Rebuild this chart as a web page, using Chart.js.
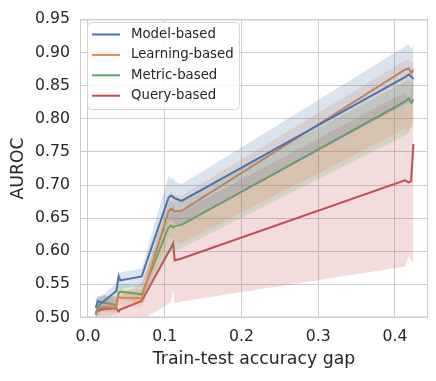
<!DOCTYPE html>
<html lang="en">
<head>
    <meta charset="UTF-8">
    <title>AUROC vs train-test gap</title>
    <script src="https://cdn.jsdelivr.net/npm/chart.js@4.4.1/dist/chart.umd.min.js"></script>
    <style>
        body { margin: 0; background: #fff; }
        #wrap { width: 436px; height: 381px; position: relative; }
    </style>
</head>
<body>
    <div id="wrap"><canvas id="aurocChart"></canvas></div>

    <script>
        // train-test accuracy gap (shared by all attack families)
        const gaps = [0.010, 0.013, 0.018, 0.037, 0.040, 0.042, 0.070, 0.105, 0.108, 0.111, 0.113, 0.122, 0.413, 0.418, 0.421, 0.424];

        const modelMean = [0.515, 0.525, 0.522, 0.540, 0.562, 0.556, 0.562, 0.681, 0.684, 0.682, 0.680, 0.676, 0.863, 0.867, 0.864, 0.860];
        const modelLow  = [0.503, 0.508, 0.510, 0.525, 0.545, 0.543, 0.548, 0.645, 0.648, 0.645, 0.642, 0.640, 0.822, 0.825, 0.828, 0.820];
        const modelHigh = [0.528, 0.533, 0.532, 0.552, 0.570, 0.568, 0.574, 0.714, 0.709, 0.711, 0.706, 0.701, 0.909, 0.913, 0.906, 0.911];

        const learnMean = [0.507, 0.512, 0.515, 0.517, 0.532, 0.530, 0.529, 0.660, 0.664, 0.662, 0.660, 0.661, 0.874, 0.876, 0.869, 0.874];
        const learnLow  = [0.497, 0.500, 0.503, 0.505, 0.520, 0.518, 0.515, 0.618, 0.620, 0.617, 0.615, 0.612, 0.785, 0.780, 0.790, 0.785];
        const learnHigh = [0.517, 0.522, 0.525, 0.528, 0.545, 0.543, 0.542, 0.686, 0.690, 0.688, 0.684, 0.684, 0.888, 0.890, 0.884, 0.889];

        const metricMean = [0.504, 0.515, 0.523, 0.519, 0.537, 0.539, 0.535, 0.636, 0.639, 0.636, 0.638, 0.640, 0.826, 0.831, 0.824, 0.829];
        const metricLow  = [0.495, 0.503, 0.510, 0.507, 0.525, 0.527, 0.522, 0.598, 0.600, 0.597, 0.600, 0.605, 0.775, 0.780, 0.790, 0.800];
        const metricHigh = [0.513, 0.527, 0.535, 0.531, 0.549, 0.551, 0.548, 0.672, 0.676, 0.673, 0.675, 0.678, 0.855, 0.860, 0.852, 0.858];

        const queryMean = [0.509, 0.510, 0.512, 0.514, 0.509, 0.512, 0.525, 0.599, 0.605, 0.612, 0.586, 0.589, 0.707, 0.704, 0.706, 0.762];
        const queryLow  = [0.490, 0.492, 0.494, 0.497, 0.503, 0.493, 0.497, 0.520, 0.525, 0.542, 0.522, 0.524, 0.577, 0.594, 0.586, 0.584];
        const queryHigh = [0.528, 0.530, 0.532, 0.533, 0.518, 0.532, 0.553, 0.650, 0.658, 0.672, 0.655, 0.660, 0.840, 0.830, 0.835, 0.900];

        const seriesNames = ['Model-based', 'Learning-based', 'Metric-based', 'Query-based'];
        const xTicks = [0.0, 0.1, 0.2, 0.3, 0.4];
        const yTicks = [0.50, 0.55, 0.60, 0.65, 0.70, 0.75, 0.80, 0.85, 0.90, 0.95];

        const palette = [[76, 114, 176], [221, 132, 82], [85, 168, 104], [196, 78, 82]];
        const groups = [
            [modelMean, modelLow, modelHigh],
            [learnMean, learnLow, learnHigh],
            [metricMean, metricLow, metricHigh],
            [queryMean, queryLow, queryHigh]
        ];

        const pts = arr => arr.map((v, i) => ({ x: gaps[i], y: v }));
        const rgba = (c, a) => `rgba(${c[0]}, ${c[1]}, ${c[2]}, ${a})`;

        const datasets = [];
        groups.forEach((g, i) => {
            const col = palette[i];
            datasets.push({ data: pts(g[2]), borderWidth: 0, pointRadius: 0, fill: '+1', backgroundColor: rgba(col, 0.2) });
            datasets.push({ data: pts(g[1]), borderWidth: 0, pointRadius: 0, fill: false });
            datasets.push({ label: seriesNames[i], data: pts(g[0]), borderColor: rgba(col, 1), borderWidth: 2, pointRadius: 0, fill: false, tension: 0 });
        });

        const txt = '#262626';
        const gridCol = '#cccccc';

        // frame + legend drawn inside the plot like the seaborn figure
        const framePlugin = {
            id: 'frameLegend',
            afterDraw(chart) {
                const { ctx, chartArea: a } = chart;
                ctx.save();
                ctx.strokeStyle = gridCol;
                ctx.lineWidth = 1;
                ctx.strokeRect(a.left + 0.5, a.top + 0.5, a.right - a.left - 1, a.bottom - a.top - 1);

                const bx = 87, by = 22, bw = 152, bh = 87, r = 4;
                ctx.beginPath();
                ctx.roundRect(bx + 0.5, by + 0.5, bw, bh, r);
                ctx.fillStyle = 'rgba(255,255,255,0.8)';
                ctx.fill();
                ctx.strokeStyle = '#d6d6d6';
                ctx.stroke();

                ctx.font = '13.3px "DejaVu Sans"';
                ctx.textBaseline = 'middle';
                ctx.fillStyle = txt;
                seriesNames.forEach((name, i) => {
                    const y = 34.5 + i * 20.4;
                    ctx.beginPath();
                    ctx.moveTo(92, y);
                    ctx.lineTo(120, y);
                    ctx.strokeStyle = rgba(palette[i], 1);
                    ctx.lineWidth = 2;
                    ctx.stroke();
                    ctx.fillText(name, 131, y);
                });
                ctx.restore();
            }
        };

        new Chart(document.getElementById('aurocChart'), {
            type: 'line',
            data: { datasets: datasets },
            options: {
                responsive: true,
                maintainAspectRatio: false,
                animation: false,
                layout: { padding: { left: 0, right: 8, top: 16, bottom: 0 } },
                plugins: {
                    legend: { display: false },
                    tooltip: { enabled: false }
                },
                scales: {
                    x: {
                        type: 'linear',
                        min: -0.0104,
                        max: 0.443,
                        afterBuildTicks: s => { s.ticks = xTicks.map(v => ({ value: v })); },
                        afterFit: s => { s.height = 63.5; },
                        grid: { color: gridCol, drawTicks: false },
                        border: { display: false },
                        ticks: {
                            color: txt,
                            padding: 10,
                            font: { family: 'DejaVu Sans', size: 15.7 },
                            callback: v => v.toFixed(1)
                        },
                        title: {
                            display: true,
                            text: 'Train-test accuracy gap',
                            color: txt,
                            font: { family: 'DejaVu Sans', size: 17.3 },
                            padding: { top: 0, bottom: 11 }
                        }
                    },
                    y: {
                        min: 0.5,
                        max: 0.95,
                        afterBuildTicks: s => { s.ticks = yTicks.map(v => ({ value: v })); },
                        afterFit: s => { s.width = 80; },
                        grid: { color: gridCol, drawTicks: false },
                        border: { display: false },
                        ticks: {
                            color: txt,
                            padding: 10,
                            font: { family: 'DejaVu Sans', size: 15.7 },
                            callback: v => v.toFixed(2)
                        },
                        title: {
                            display: true,
                            text: 'AUROC',
                            color: txt,
                            font: { family: 'DejaVu Sans', size: 17.3 },
                            padding: { top: 8, bottom: 0 }
                        }
                    }
                }
            },
            plugins: [framePlugin]
        });
    </script>
</body>
</html>
